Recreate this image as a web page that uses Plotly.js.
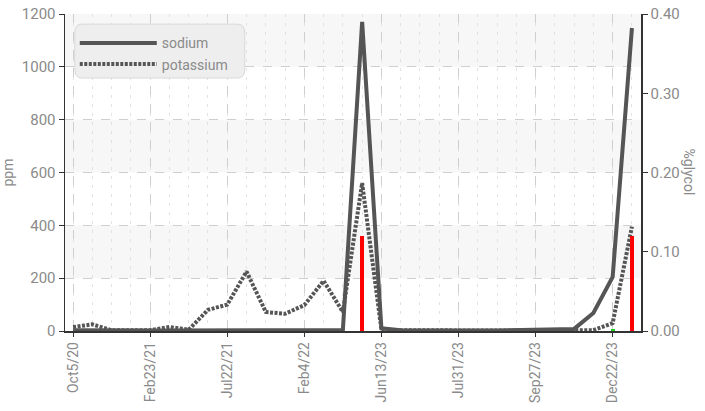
<!DOCTYPE html>
<html><head><meta charset="utf-8">
<script src="https://cdn.plot.ly/plotly-3.0.1.min.js"></script>
<style>html,body{margin:0;padding:0;background:#fff;}#chart{width:705px;height:411px;}</style>
</head><body><div id="chart"></div>
<script>
// Sample index (equally spaced categories) and the labelled dates
const sampleIndex = [0,1,2,3,4,5,6,7,8,9,10,11,12,13,14,15,16,17,18,19,20,21,22,23,24,25,26,27,28,29];
const tickIndex = [0,4,8,12,16,20,24,28];
const tickLabels = ["Oct5/20","Feb23/21","Jul22/21","Feb4/22","Jun13/23","Jul31/23","Sep27/23","Dec22/23"];
// ppm series
const sodium =    [3,2,2,2,2,2,2,3,3,3,3,3,3,4,4,1170,10,3,2,2,2,2,2,3,4,5,8,68,205,1147];
const potassium = [15,25,3,2,3,15,5,80,100,225,72,65,98,190,72,560,5,3,2,2,2,2,2,2,3,3,3,3,30,395];
// %glycol bars
const glycol =      [null,null,null,null,null,null,null,null,null,null,null,null,null,null,null,0.12,null,null,null,null,null,null,null,null,null,null,null,null,0.002,0.12];
const glycolColor = ["red","red","red","red","red","red","red","red","red","red","red","red","red","red","red","#ff0000","red","red","red","red","red","red","red","red","red","red","red","red","#22cc22","#ff0000"];

const gray = "#8a8a8a";
const fam = "Roboto, sans-serif";
const fnt = {family: fam, size: 14, color: gray};

const bands = [];
for (let v = 200; v < 1200; v += 400) {
  bands.push({type:"rect", xref:"paper", yref:"y", x0:0, x1:1, y0:v, y1:v+200, fillcolor:"#f7f7f7", line:{width:0}, layer:"below"});
}
bands.push({type:"rect", xref:"paper", yref:"y", x0:0, x1:1, y0:1000, y1:1200, fillcolor:"#f7f7f7", line:{width:0}, layer:"below"});
// rounded legend box
bands.push({type:"path", xref:"paper", yref:"paper",
  path:"M 0.029 0.968 L 0.300 0.968 Q 0.312 0.968 0.312 0.94 L 0.312 0.826 Q 0.312 0.798 0.300 0.798 L 0.029 0.798 Q 0.017 0.798 0.017 0.826 L 0.017 0.94 Q 0.017 0.968 0.029 0.968 Z",
  fillcolor:"#eeeeee", line:{color:"#d8d8d8", width:1}, layer:"above"});

const traces = [
  {x: sampleIndex, y: sodium, name: "sodium", type: "scatter", mode: "lines",
   line: {color: "#555555", width: 4}},
  {x: sampleIndex, y: potassium, name: "potassium", type: "scatter", mode: "lines",
   line: {color: "#555555", width: 4, dash: "3px,1.5px"}},
  {x: sampleIndex, y: glycol, name: "%glycol", type: "bar", yaxis: "y2", width: 0.2,
   marker: {color: glycolColor}, showlegend: false}
];

const layout = {
  width: 705, height: 411,
  margin: {l: 65, r: 64, t: 14, b: 80},
  paper_bgcolor: "#ffffff", plot_bgcolor: "#ffffff",
  font: fnt,
  showlegend: true,
  legend: {x: 0.017, y: 0.958, xanchor: "left", yanchor: "top", bgcolor: "rgba(0,0,0,0)",
    itemwidth: 77, font: {family: fam, size: 14, color: gray}, tracegroupgap: 0},
  xaxis: {range: [-0.42, 29.47], tickmode: "array", tickvals: tickIndex, ticktext: tickLabels,
    tickangle: -90, showgrid: true, gridcolor: "#cfcfcf", griddash: "dash", gridwidth: 1,
    minor: {dtick: 1, tick0: 0, showgrid: true, gridcolor: "#e2e2e2", griddash: "3px,6px", ticks: ""},
    ticks: "outside", ticklen: 4, tickcolor: "#333", showline: true, linecolor: "#333", linewidth: 1.5,
    zeroline: false, tickfont: fnt},
  yaxis: {range: [0, 1200], dtick: 200, showgrid: true, gridcolor: "#cfcfcf", griddash: "dash",
    ticks: "outside", ticklen: 5, tickcolor: "#333", showline: true, linecolor: "#333", linewidth: 1.5,
    zeroline: false, tickfont: {family: fam, size: 15, color: gray},
    title: {text: "ppm", font: {family: fam, size: 14, color: gray}, standoff: 10}},
  yaxis2: {range: [0, 0.4], dtick: 0.1, tickformat: ".2f", overlaying: "y", side: "right",
    showgrid: false, ticks: "outside", ticklen: 5, tickcolor: "#333", showline: true,
    linecolor: "#333", linewidth: 1.5, zeroline: false,
    tickfont: {family: fam, size: 15, color: gray}},
  annotations: [{text: "%glycol", xref: "paper", yref: "paper", x: 1.085, xanchor: "center",
    y: 0.5, yanchor: "middle", textangle: 90,
    showarrow: false, font: {family: fam, size: 14, color: gray}}],
  shapes: bands,
  bargap: 0
};

Plotly.newPlot("chart", traces, layout, {displayModeBar: false, staticPlot: true});
</script></body></html>
